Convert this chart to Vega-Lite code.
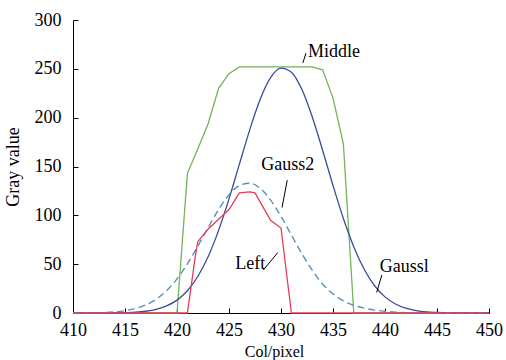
{
  "$schema": "https://vega.github.io/schema/vega-lite/v6.json",
  "width": 416,
  "height": 293,
  "autosize": "none",
  "padding": {"left": 73, "top": 20, "right": 17, "bottom": 47},
  "background": "white",
  "config": {
    "view": {"stroke": null},
    "font": "Times New Roman, Liberation Serif, serif",
    "axis": {
      "grid": false,
      "domainColor": "black",
      "domainWidth": 1,
      "tickColor": "black",
      "tickWidth": 1,
      "tickSize": -5,
      "labelFlush": false,
      "labelColor": "black",
      "labelFont": "Times New Roman, Liberation Serif, serif",
      "labelFontSize": 18,
      "titleFont": "Times New Roman, Liberation Serif, serif",
      "titleFontWeight": "normal",
      "titleColor": "black"
    }
  },
  "datasets": {
    "gauss1": [
      {"x": 410, "y": 0}, {"x": 413, "y": 0}, {"x": 414, "y": 0.1}, {"x": 415, "y": 0.4},
      {"x": 416, "y": 0.8}, {"x": 417, "y": 1.8}, {"x": 418, "y": 3.7}, {"x": 419, "y": 7.2},
      {"x": 420, "y": 13.2}, {"x": 421, "y": 22.8}, {"x": 422, "y": 37.4}, {"x": 423, "y": 57.8},
      {"x": 424, "y": 84.6}, {"x": 425, "y": 116.8}, {"x": 426, "y": 152.4}, {"x": 427, "y": 187.8},
      {"x": 428, "y": 218.9}, {"x": 429, "y": 241}, {"x": 430, "y": 250.7}, {"x": 431, "y": 246.5},
      {"x": 432, "y": 229}, {"x": 433, "y": 201}, {"x": 434, "y": 166.7}, {"x": 435, "y": 130.6},
      {"x": 436, "y": 96.7}, {"x": 437, "y": 67.7}, {"x": 438, "y": 44.8}, {"x": 439, "y": 27.9},
      {"x": 440, "y": 16.5}, {"x": 441, "y": 9.2}, {"x": 442, "y": 4.9}, {"x": 443, "y": 2.4},
      {"x": 444, "y": 1.1}, {"x": 445, "y": 0.5}, {"x": 446, "y": 0.1}, {"x": 447, "y": 0},
      {"x": 450, "y": 0}
    ],
    "gauss2": [
      {"x": 410, "y": 0}, {"x": 412, "y": 0}, {"x": 413, "y": 0.5}, {"x": 414, "y": 1.2},
      {"x": 415, "y": 2.4}, {"x": 416, "y": 4.6}, {"x": 417, "y": 8.3}, {"x": 418, "y": 14.2},
      {"x": 419, "y": 22.9}, {"x": 420, "y": 35}, {"x": 421, "y": 50.3}, {"x": 422, "y": 68.4},
      {"x": 423, "y": 87.6}, {"x": 424, "y": 106}, {"x": 425, "y": 121.1}, {"x": 426, "y": 130.6},
      {"x": 427, "y": 132.9}, {"x": 428, "y": 127.6}, {"x": 429, "y": 115.6}, {"x": 430, "y": 98.9},
      {"x": 431, "y": 79.8}, {"x": 432, "y": 60.9}, {"x": 433, "y": 43.8}, {"x": 434, "y": 29.7},
      {"x": 435, "y": 19.5}, {"x": 436, "y": 12.5}, {"x": 437, "y": 7.8}, {"x": 438, "y": 5},
      {"x": 439, "y": 3}, {"x": 440, "y": 1.8}, {"x": 441, "y": 0.9}, {"x": 442, "y": 0.3},
      {"x": 443, "y": 0}, {"x": 450, "y": 0}
    ],
    "middle": [
      {"x": 410, "y": 0}, {"x": 420, "y": 0}, {"x": 421, "y": 143}, {"x": 422, "y": 168},
      {"x": 423, "y": 194}, {"x": 424, "y": 230}, {"x": 425, "y": 245}, {"x": 426, "y": 252},
      {"x": 427, "y": 252}, {"x": 428, "y": 252}, {"x": 429, "y": 252}, {"x": 430, "y": 252},
      {"x": 431, "y": 252}, {"x": 432, "y": 252}, {"x": 433, "y": 252}, {"x": 434, "y": 249},
      {"x": 435, "y": 220}, {"x": 436, "y": 173}, {"x": 437, "y": 0}, {"x": 450, "y": 0}
    ],
    "left": [
      {"x": 410, "y": 0}, {"x": 421, "y": 0}, {"x": 421.8, "y": 61}, {"x": 422, "y": 73},
      {"x": 423, "y": 86}, {"x": 424, "y": 96}, {"x": 425, "y": 106}, {"x": 426, "y": 123},
      {"x": 427, "y": 124}, {"x": 427.5, "y": 123}, {"x": 429, "y": 95}, {"x": 430, "y": 87},
      {"x": 431, "y": 0}, {"x": 450, "y": 0}
    ],
    "leaders": [
      {"x": 432.1, "y": 256, "x2": 432.4, "y2": 266},
      {"x": 430.6, "y": 136, "x2": 430.1, "y2": 108},
      {"x": 428.3, "y": 44, "x2": 429.7, "y2": 62},
      {"x": 439.2, "y": 21, "x2": 439.7, "y2": 39}
    ],
    "labels": [
      {"x": 432.6, "y": 267, "label": "Middle"},
      {"x": 428.1, "y": 151.5, "label": "Gauss2"},
      {"x": 425.6, "y": 50, "label": "Left"},
      {"x": 439.5, "y": 47, "label": "Gaussl"}
    ]
  },
  "encoding": {
    "x": {
      "field": "x",
      "type": "quantitative",
      "scale": {"domain": [410, 450], "nice": false, "zero": false},
      "axis": {
        "title": "Col/pixel",
        "titleFontSize": 16,
        "values": [410, 415, 420, 425, 430, 435, 440, 445, 450],
        "format": "d",
        "labelPadding": 13,
        "titlePadding": 4,
        "titleX": 201
      }
    },
    "y": {
      "field": "y",
      "type": "quantitative",
      "scale": {"domain": [0, 300], "nice": false},
      "axis": {
        "title": "Gray value",
        "titleFontSize": 18,
        "values": [0, 50, 100, 150, 200, 250, 300],
        "format": "d",
        "labelPadding": 17,
        "titlePadding": 12
      }
    }
  },
  "layer": [
    {
      "data": {"name": "middle"},
      "mark": {"type": "line", "color": "#72b45a", "strokeWidth": 1.3, "interpolate": "linear"}
    },
    {
      "data": {"name": "gauss1"},
      "mark": {"type": "line", "color": "#3b4b9b", "strokeWidth": 1.3, "interpolate": "monotone"}
    },
    {
      "data": {"name": "gauss2"},
      "mark": {"type": "line", "color": "#5591b5", "strokeWidth": 1.4, "strokeDash": [7, 4], "interpolate": "monotone"}
    },
    {
      "data": {"name": "left"},
      "mark": {"type": "line", "color": "#e63c57", "strokeWidth": 1.3, "interpolate": "linear"}
    },
    {
      "data": {"name": "leaders"},
      "mark": {"type": "rule", "color": "black", "strokeWidth": 1},
      "encoding": {
        "x2": {"field": "x2"},
        "y2": {"field": "y2"}
      }
    },
    {
      "data": {"name": "labels"},
      "mark": {"type": "text", "align": "left", "baseline": "middle", "font": "Times New Roman, Liberation Serif, serif", "fontSize": 18, "color": "black"},
      "encoding": {
        "text": {"field": "label"}
      }
    }
  ]
}
